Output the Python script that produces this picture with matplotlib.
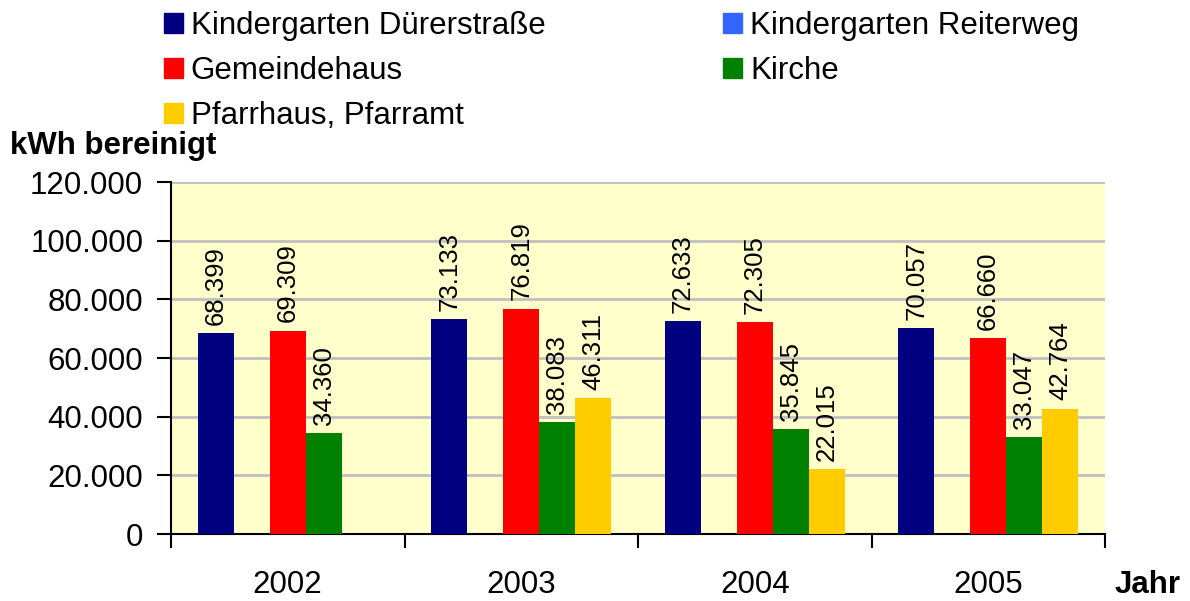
import numpy as np
import matplotlib
matplotlib.use("Agg")
import matplotlib.pyplot as plt
from matplotlib.patches import Patch
from matplotlib.ticker import FuncFormatter

plt.rcParams['font.family'] = ['Liberation Sans', 'DejaVu Sans']

years = ["2002", "2003", "2004", "2005"]
names = ["Kindergarten Dürerstraße", "Kindergarten Reiterweg", "Gemeindehaus",
         "Kirche", "Pfarrhaus, Pfarramt"]
colors = ["#000080", "#3366FF", "#FF0000", "#008000", "#FFCC00"]

duerer = [68399, 73133, 72633, 70057]
reiter = [None, None, None, None]
gemeinde = [69309, 76819, 72305, 66660]
kirche = [34360, 38083, 35845, 33047]
pfarr = [None, 46311, 22015, 42764]
series = [duerer, reiter, gemeinde, kirche, pfarr]


def dotted(v):
    return f"{int(v):,}".replace(",", ".")


fig = plt.figure(figsize=(11.9, 6.01), dpi=100)
ax = fig.add_axes([171/1190, 1 - 534/601, (1105 - 171)/1190, (534 - 182)/601])
ax.set_facecolor("#FFFFCC")

x = np.arange(len(years))
w = 1 / 6.5
for i, (vals, c) in enumerate(zip(series, colors)):
    pos = x + (i - 2) * w
    for p, v in zip(pos, vals):
        if v is None:
            continue
        ax.bar(p, v, width=w, color=c, zorder=3)
        ax.annotate(dotted(v), (p, v), xytext=(0, 6), textcoords="offset points",
                    rotation=90, ha="center", va="bottom", fontsize=18.5, zorder=4)

ax.set_xlim(-0.5, 3.5)
ax.set_ylim(0, 120000)
ax.set_yticks(np.arange(0, 120001, 20000))
ax.yaxis.set_major_formatter(FuncFormatter(lambda v, p: dotted(v)))
ax.grid(axis="y", color="#C0C0C0", linewidth=2, zorder=0)

ax.set_xticks(np.arange(-0.5, 3.6, 1))
ax.set_xticklabels([])
ax.set_xticks(x, minor=True)
ax.set_xticklabels(years, minor=True)
ax.tick_params(axis="x", which="minor", length=0, pad=26, labelsize=22.5)
ax.tick_params(axis="x", which="major", length=10, width=1.5, direction="out")
ax.tick_params(axis="y", length=10, width=1.5, labelsize=22.5, pad=10)

ax.spines['right'].set_visible(False)
ax.spines['top'].set_visible(False)
ax.spines['left'].set_linewidth(1.5)
ax.spines['bottom'].set_linewidth(1.5)

handles = [Patch(color=c) for c in colors]
order = [0, 2, 4, 1, 3]
fig.legend([handles[i] for i in order], [names[i] for i in order], ncol=2,
           loc="upper left", bbox_to_anchor=(164/1190, 1 - 11/601), frameon=False,
           fontsize=22.5, handlelength=0.6, handleheight=0.6, handletextpad=0.25,
           labelspacing=0.48, columnspacing=5.7, borderpad=0, borderaxespad=0)

fig.text(10/1190, 1 - 146/601, "kWh bereinigt", fontsize=22.5, fontweight="bold",
         va="center", ha="left")
fig.text(1115/1190, 1 - 585/601, "Jahr", fontsize=22.5, fontweight="bold",
         va="center", ha="left")

fig.savefig("out.png", dpi=100)
